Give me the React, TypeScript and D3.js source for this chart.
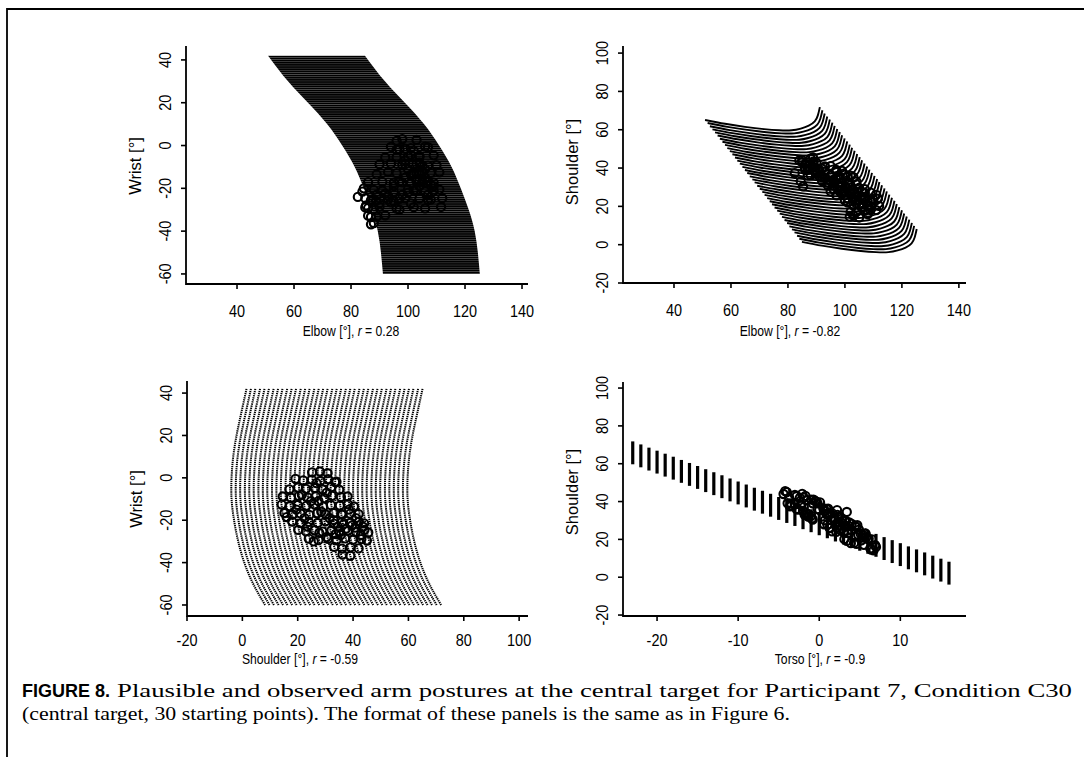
import React from 'react';
import * as d3 from 'd3';

const W = 1089;
const H = 771;
const SANS = "'Liberation Sans', Arial, Helvetica, sans-serif";
const SERIF = "'Liberation Serif', 'Times New Roman', Times, serif";

// ---------- plausible posture grid ----------
const wristKnots = [42, 30, 20, 10, 0, -10, -20, -30, -40, -50, -60];
const shoulderShape = [0, -2.0, -3.6, -4.8, -5.4, -5.4, -4.5, -3.0, -0.8, 2.4, 6.7];
const elbowRise = [0, 7, 14, 20.7, 26, 30.4, 33.6, 36.4, 38.5, 39.6, 40.3];
const torsoDeg = [-23, -22, -21, -20, -19, -18, -17, -16, -15, -14, -13, -12, -11, -10, -9, -8, -7, -6, -5, -4,
  -3, -2, -1, 0, 1, 2, 3, 4, 5, 6, 7, 8, 9, 10, 11, 12, 13, 14, 15, 16];
const shoulderAtWristTop = [65.1, 63.5, 61.8, 60.2, 58.6, 57.0, 55.3, 53.7, 52.1, 50.4, 48.8, 47.2, 45.5, 43.9, 42.3,
  40.6, 39.0, 37.4, 35.7, 34.1, 32.5, 30.8, 29.2, 27.6, 26.0, 24.3, 22.7, 21.1, 19.4, 17.8, 16.2, 14.5, 12.9, 11.3,
  9.6, 8.0, 6.4, 4.7, 3.1, 1.5];
const elbowAtWristTop = [50.9, 51.8, 52.6, 53.5, 54.4, 55.3, 56.1, 57.0, 57.9, 58.7, 59.6, 60.5, 61.4, 62.2, 63.1,
  64.0, 64.9, 65.7, 66.6, 67.5, 68.3, 69.2, 70.1, 71.0, 71.8, 72.7, 73.6, 74.4, 75.3, 76.2, 77.1, 77.9, 78.8, 79.7,
  80.5, 81.4, 82.3, 83.2, 84.0, 84.9];

// ---------- observed postures ----------
const obsShoulder = [25.2, 28.0, 30.8, 19.2, 22.0, 25.1, 28.2, 31.0, 34.0, 17.0, 20.1, 23.0, 26.2, 29.0, 32.1, 35.0,
  14.6, 17.6, 20.4, 23.6, 26.5, 29.6, 32.4, 35.6, 38.0, 14.2, 17.1, 20.0, 23.1, 26.0, 29.2, 32.0, 35.2, 38.1, 40.3,
  15.2, 18.1, 21.0, 24.2, 27.0, 30.1, 33.0, 36.1, 39.0, 42.0, 18.0, 21.1, 24.0, 27.2, 30.0, 33.1, 36.0, 39.1, 42.1,
  44.0, 20.2, 23.0, 26.1, 29.0, 32.2, 35.0, 38.2, 41.0, 44.1, 45.5, 24.0, 27.5, 31.0, 34.0, 37.1, 40.0, 43.0, 45.0,
  33.2, 36.0, 39.1, 42.0, 36.2, 39.0, 25.8, 39.6, 34.5, 35.5, 16.0, 27.5, 42.8, 37.4, 30.4, 33.0,
  41.0, 38.5, 36.5, 31.5, 28.5, 24.8, 22.5, 19.5, 27.8, 33.8, 30.5, 26.8, 35.8, 40.8, 43.5, 23.5, 21.5, 33.5];
const obsWrist = [2.6, 3.0, 2.2, -0.5, -1.2, -0.8, -1.5, -0.6, -1.8, -5.4, -4.6, -5.2, -4.8, -5.5, -4.4, -5.6,
  -8.8, -9.4, -8.6, -9.2, -8.7, -9.6, -8.5, -9.1, -8.8, -12.6, -13.4, -12.8, -13.2, -12.5, -13.6, -12.9, -13.1, -12.4,
  -13.5, -16.6, -17.3, -16.8, -17.5, -16.7, -17.2, -16.6, -17.4, -16.9, -17.1, -20.6, -21.4, -20.8, -21.3, -20.5,
  -21.6, -20.9, -21.2, -20.7, -21.5, -24.6, -25.3, -24.8, -25.4, -24.7, -25.2, -24.9, -25.5, -24.6, -25.8, -28.7,
  -29.4, -28.8, -29.5, -28.6, -29.2, -28.9, -29.6, -32.6, -33.4, -32.8, -33.3, -36.2, -36.8, -30.0, -22.5, -23.0,
  -27.0, -18.5, -11.0, -27.0, -24.0, -28.0, -20.0,
  -19.0, -15.0, -22.0, -19.0, -16.0, -11.0, -19.0, -15.0, -26.0, -26.5, -7.0, -2.5, -17.0, -23.5, -23.0, -23.0,
  -8.0, -2.0];
const obsTorso = [4.9, 0.6, 1.8, 3.4, 5.5, 2.6, 4.0, 2.8, -1.6, 6.9, 3.1, 5.1, 2.2, 3.7, 2.4, -2.0, 6.4, 4.6, 6.1,
  3.1, 4.6, 3.3, -1.0, 0.0, -3.5, 6.7, 5.5, 6.5, 5.7, 1.3, 2.3, -1.3, 0.6, -2.2, -0.5, 6.3, 4.3, 5.4, 1.6, 3.7, 0.7,
  2.25, 0.9, -3.5, -2.4, 3.9, 5.8, 3.0, 4.4, 3.15, -1.3, -0.2, -3.9, -1.9, -4.4, 6.0, 5.7, 1.3, 2.4, -1.4, 0.7, -2.3,
  -0.7, -2.1, -4.2, 2.1, 3.05, -0.9, 1.1, -1.9, -0.35, -1.7, -4.0, 0.9, -2.8, -0.8, -3.7, 1.1, -0.2, 2.8, 0.1, 3.4,
  2.2, 7.0, 4.7, -2.8, -3.6, -0.8, -1.8,
  -1.0, -3.0, 0.5, 1.8, 2.9, 4.0, 4.8, 5.2, 1.0, 1.6, 2.0, 3.3, -2.6, -1.6, -3.0, 3.6, 4.4, 1.0];
const obsElbow = [103, 98, 96, 106, 101, 107, 99, 94, 97, 104, 109, 100, 104, 96, 101, 92, 101.7, 107, 103, 110, 99,
  105, 94, 98, 90, 105, 102, 108, 104, 111, 101, 96, 103, 93, 89, 103, 109, 105, 101, 107, 98, 104, 95, 97, 86, 111,
  106, 103, 109, 100, 95, 102, 91, 88, 84, 112, 108, 104, 107, 99, 93, 97, 87, 85, 88.8, 111.6, 106, 102, 96, 90, 86,
  85, 88, 92, 87, 86, 89, 88, 87, 97, 92, 98, 101, 108, 100, 90, 82.4, 85.3, 84.5,
  95, 99, 100, 104, 103, 106, 109, 106, 95, 94, 99, 102, 91, 93, 89, 107, 104, 96];

// ---------- tick labels ----------
const elbowTicks = [40, 60, 80, 100, 120, 140];
const wristTicks = [-60, -40, -20, 0, 20, 40];
const shoulderTicksY = [-20, 0, 20, 40, 60, 80, 100];
const shoulderTicksX = [-20, 0, 20, 40, 60, 80, 100];
const torsoTicks = [-20, -10, 0, 10];

type Posture = { torso: number; wrist: number; shoulder: number; elbow: number };
const grid: Posture[][] = torsoDeg.map((t, i) =>
  wristKnots.map((w, k) => ({
    torso: t,
    wrist: w,
    shoulder: shoulderAtWristTop[i] + shoulderShape[k],
    elbow: elbowAtWristTop[i] + elbowRise[k],
  }))
);
const observed: Posture[] = obsTorso.map((t, i) => ({
  torso: t, shoulder: obsShoulder[i], wrist: obsWrist[i], elbow: obsElbow[i],
}));

type Cfg = {
  left: number; right: number; top: number; bottom: number;
  xDom: [number, number]; yDom: [number, number];
  xTicks: number[]; yTicks: number[];
  xTitle: React.ReactNode; yTitle: string; xTitleX: number; tickDy: number; xTitleDy: number; yTitleY: number;
};

const cfg1: Cfg = {
  left: 186, right: 528, top: 46, bottom: 284, xDom: [22.1, 142.1], yDom: [-64.7, 46.5],
  xTicks: elbowTicks, yTicks: wristTicks,
  xTitle: <>Elbow [°], <tspan fontStyle="italic">r</tspan> = 0.28</>, yTitle: 'Wrist [°]',
  xTitleX: 351, tickDy: 33, xTitleDy: 52, yTitleY: 166,
};
const cfg2: Cfg = {
  left: 623, right: 966, top: 46, bottom: 283, xDom: [22.1, 142.5], yDom: [-20, 103.7],
  xTicks: elbowTicks, yTicks: shoulderTicksY,
  xTitle: <>Elbow [°], <tspan fontStyle="italic">r</tspan> = -0.82</>, yTitle: 'Shoulder [°]',
  xTitleX: 790, tickDy: 33, xTitleDy: 53, yTitleY: 162,
};
const cfg3: Cfg = {
  left: 187, right: 528, top: 381, bottom: 616, xDom: [-20, 103.2], yDom: [-65.2, 45.7],
  xTicks: shoulderTicksX, yTicks: wristTicks,
  xTitle: <>Shoulder [°], <tspan fontStyle="italic">r</tspan> = -0.59</>, yTitle: 'Wrist [°]',
  xTitleX: 300, tickDy: 30, xTitleDy: 48, yTitleY: 499,
};
const cfg4: Cfg = {
  left: 623, right: 966, top: 382, bottom: 616, xDom: [-24.2, 18.1], yDom: [-20.5, 103.2],
  xTicks: torsoTicks, yTicks: shoulderTicksY,
  xTitle: <>Torso [°], <tspan fontStyle="italic">r</tspan> = -0.9</>, yTitle: 'Shoulder [°]',
  xTitleX: 820, tickDy: 30, xTitleDy: 48, yTitleY: 492,
};

function scales(c: Cfg) {
  const x = d3.scaleLinear().domain(c.xDom).range([c.left, c.right]);
  const y = d3.scaleLinear().domain(c.yDom).range([c.bottom, c.top]);
  return { x, y };
}

function Axes({ c }: { c: Cfg }) {
  const { x, y } = scales(c);
  const tl = 5;
  return (
    <g>
      <path d={`M${c.left},${c.top}V${c.bottom}H${c.right}`} fill="none" stroke="#000" strokeWidth={1.8} />
      {c.xTicks.map((v) => (
        <g key={'x' + v}>
          <line x1={x(v)} x2={x(v)} y1={c.bottom} y2={c.bottom + tl} stroke="#000" strokeWidth={1.6} />
          <text transform={`translate(${x(v)},${c.bottom + c.tickDy}) scale(0.85,1)`} textAnchor="middle"
            fontSize={17} fontFamily={SANS} fill="#000">{String(v)}</text>
        </g>
      ))}
      {c.yTicks.map((v) => (
        <g key={'y' + v}>
          <line x1={c.left - tl} x2={c.left} y1={y(v)} y2={y(v)} stroke="#000" strokeWidth={1.6} />
          <text transform={`translate(${c.left - 15},${y(v)}) rotate(-90) scale(0.85,1)`} textAnchor="middle"
            fontSize={17} fontFamily={SANS} fill="#000">{String(v)}</text>
        </g>
      ))}
      <text transform={`translate(${c.xTitleX},${c.bottom + c.xTitleDy}) scale(0.84,1)`} textAnchor="middle"
        fontSize={14.5} fontFamily={SANS} fill="#000">{c.xTitle}</text>
      <text transform={`translate(${c.left - 45},${c.yTitleY}) rotate(-90)`} textAnchor="middle" fontSize={16.5}
        fontFamily={SANS} fill="#000">{c.yTitle}</text>
    </g>
  );
}

function ObsCircles({ px, py }: { px: number[]; py: number[] }) {
  return (
    <g>
      {px.map((cx, i) => (
        <circle key={i} cx={cx} cy={py[i]} r={4.1} fill="none" stroke="#000" strokeWidth={2.1} />
      ))}
    </g>
  );
}

function Panel1() {
  const c = cfg1;
  const { x, y } = scales(c);
  const first = grid[0];
  const last = grid[grid.length - 1];
  const area = d3.area<number>()
    .y((k) => y(first[k].wrist))
    .x0((k) => x(first[k].elbow))
    .x1((k) => x(last[k].elbow))
    .curve(d3.curveNatural);
  const rowPx = Math.abs(y(0) - y(1));
  const ks = wristKnots.map((_, k) => k);
  return (
    <g>
      <defs>
        <pattern id="rows1" patternUnits="userSpaceOnUse" width={10} height={rowPx} y={y(42)}>
          <rect x={0} y={0} width={10} height={rowPx * 0.9} fill="#000" />
        </pattern>
      </defs>
      <path d={area(ks) || ''} fill="url(#rows1)" />
      <ObsCircles px={observed.map((o) => x(o.elbow))} py={observed.map((o) => y(o.wrist))} />
      <Axes c={c} />
    </g>
  );
}

function Panel2() {
  const c = cfg2;
  const { x, y } = scales(c);
  const line = d3.line<Posture>().x((p) => x(p.elbow)).y((p) => y(p.shoulder)).curve(d3.curveNatural);
  return (
    <g>
      {grid.map((col, i) => (
        <path key={i} d={line(col) || ''} fill="none" stroke="#000" strokeWidth={1.9} />
      ))}
      <ObsCircles px={observed.map((o) => x(o.elbow))} py={observed.map((o) => y(o.shoulder))} />
      <Axes c={c} />
    </g>
  );
}

function Panel3() {
  const c = cfg3;
  const { x, y } = scales(c);
  const line = d3.line<Posture>().x((p) => x(p.shoulder)).y((p) => y(p.wrist)).curve(d3.curveNatural);
  const rowPx = Math.abs(y(0) - y(1));
  return (
    <g>
      {grid.map((col, i) => (
        <path key={i} d={line(col) || ''} fill="none" stroke="#000" strokeWidth={2.0}
          strokeDasharray={`${(rowPx * 0.62).toFixed(2)} ${(rowPx * 0.38).toFixed(2)}`} />
      ))}
      <ObsCircles px={observed.map((o) => x(o.shoulder))} py={observed.map((o) => y(o.wrist))} />
      <Axes c={c} />
    </g>
  );
}

function Panel4() {
  const c = cfg4;
  const { x, y } = scales(c);
  return (
    <g>
      {grid.map((col, i) => {
        const lo = d3.min(col, (p) => p.shoulder) as number;
        const hi = d3.max(col, (p) => p.shoulder) as number;
        return (
          <line key={i} x1={x(torsoDeg[i])} x2={x(torsoDeg[i])} y1={y(lo)} y2={y(hi)}
            stroke="#000" strokeWidth={3.2} />
        );
      })}
      <ObsCircles px={observed.map((o) => x(o.torso))} py={observed.map((o) => y(o.shoulder))} />
      <Axes c={c} />
    </g>
  );
}

export default function App() {
  return (
    <svg width={W} height={H} viewBox={`0 0 ${W} ${H}`}
      style={{ position: 'absolute', left: 0, top: 0, background: '#fff' }}>
      <rect x={0} y={0} width={W} height={H} fill="#fff" />
      <path d={`M7,757V9H1084`} fill="none" stroke="#000" strokeWidth={1.8} />
      <Panel1 />
      <Panel2 />
      <Panel3 />
      <Panel4 />
      <text x={22} y={697} fontFamily={SANS} fontWeight="bold" fontSize={18} fill="#000">FIGURE 8.</text>
      <text x={117} y={697} fontFamily={SERIF} fontSize={19.5} fill="#000" textLength={955}
        lengthAdjust="spacingAndGlyphs">
        Plausible and observed arm postures at the central target for Participant 7, Condition C30
      </text>
      <text x={22} y={720} fontFamily={SERIF} fontSize={19.5} fill="#000" textLength={768}
        lengthAdjust="spacingAndGlyphs">
        (central target, 30 starting points). The format of these panels is the same as in Figure 6.
      </text>
    </svg>
  );
}
